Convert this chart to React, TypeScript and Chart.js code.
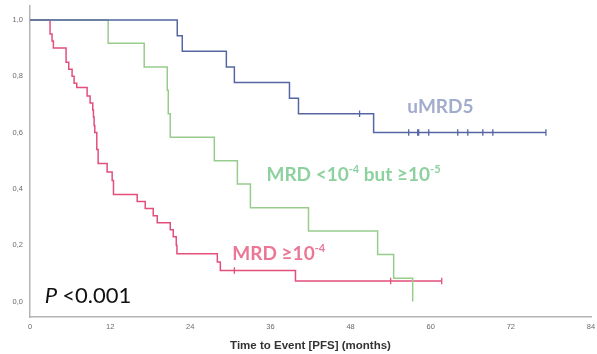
import React, { useEffect, useRef } from "react";
import { Chart, registerables } from "chart.js";

Chart.register(...registerables);

// Axis ticks
const xTickValues = [0, 12, 24, 36, 48, 60, 72, 84];
const yTickValues = [0, 0.2, 0.4, 0.6, 0.8, 1.0];

// Kaplan-Meier step points (months, survival probability)
const umrdTimes = [0, 22.05, 22.8, 29.4, 30.6, 38.85, 40.2, 51.45, 77.25];
const umrdSurv = [1, 0.944, 0.889, 0.833, 0.778, 0.722, 0.667, 0.6, 0.6];
const umrdCensored = [49.35, 56.7, 58.05, 58.2, 59.7, 64.05, 65.55, 67.8, 69.3, 77.25];

const midTimes = [0, 11.7, 17.1, 20.55, 20.7, 21.0, 27.6, 31.05, 33.0, 41.7, 52.05, 54.45, 57.3];
const midSurv = [1, 0.917, 0.833, 0.75, 0.667, 0.583, 0.5, 0.417, 0.333, 0.25, 0.167, 0.083, 0];

const highTimes = [
  0, 3.0, 3.3, 3.5, 5.4, 5.8, 6.3, 6.6, 7.0, 8.55, 9.0, 9.4, 9.5, 9.6, 9.7, 10.0, 10.2,
  11.55, 12.3, 12.5, 16.05, 17.25, 18.45, 19.05, 21.0, 21.45, 21.9, 22.0, 28.05, 28.5,
  39.75, 61.65,
];
const highSurv = [
  1, 0.95, 0.925, 0.9, 0.85, 0.825, 0.8, 0.775, 0.76, 0.73, 0.705, 0.68, 0.655, 0.625,
  0.6, 0.54, 0.49, 0.46, 0.43, 0.38, 0.355, 0.33, 0.305, 0.28, 0.255, 0.23, 0.2, 0.17,
  0.14, 0.11, 0.073, 0.073,
];
const highCensored = [30.6, 54.0, 61.65];

// Curve labels: [text, superscript?] parts, anchored in data units (left, baseline)
const umrdLabel: [string, boolean][] = [["uMRD5", false]];
const midLabel: [string, boolean][] = [
  ["MRD <10", false],
  ["-4", true],
  [" but \u226510", false],
  ["-5", true],
];
const highLabel: [string, boolean][] = [
  ["MRD \u226510", false],
  ["-4", true],
];

const COLORS = {
  umrdLine: "#5566a3",
  midLine: "#98cc8c",
  highLine: "#e34f7b",
  umrdText: "#a2accd",
  midText: "#8dd19f",
  highText: "#eb7695",
  axis: "#b4b4b4",
  tick: "#6a6a6a",
};

const LABEL_FONT = "Lato, 'Open Sans', sans-serif";

function survivalAt(times: number[], surv: number[], t: number) {
  let s = surv[0];
  for (let i = 0; i < times.length; i++) if (times[i] <= t) s = surv[i];
  return s;
}

function toPoints(times: number[], surv: number[]) {
  return times.map((t, i) => ({ x: t, y: surv[i] }));
}

function censorPoints(times: number[], surv: number[], cens: number[]) {
  return cens.map((t) => ({ x: t, y: survivalAt(times, surv, t) }));
}

function drawRich(
  ctx: CanvasRenderingContext2D,
  x0: number,
  baseline: number,
  parts: [string, boolean][],
  size: number,
  color: string
) {
  let x = x0;
  ctx.fillStyle = color;
  ctx.textBaseline = "alphabetic";
  ctx.textAlign = "left";
  for (const [text, sup] of parts) {
    const fs = sup ? Math.round(size * 0.6) : size;
    ctx.font = `bold ${fs}px ${LABEL_FONT}`;
    ctx.fillText(text, x, sup ? baseline - size * 0.42 : baseline);
    x += ctx.measureText(text).width;
  }
}

const annotationPlugin = {
  id: "kmAnnotations",
  afterDatasetsDraw(chart: any) {
    const { ctx, scales } = chart;
    const xs = scales.x;
    const ys = scales.y;
    ctx.save();
    drawRich(ctx, xs.getPixelForValue(56.5), ys.getPixelForValue(0.668), umrdLabel, 19, COLORS.umrdText);
    drawRich(ctx, xs.getPixelForValue(35.4), ys.getPixelForValue(0.427), midLabel, 19, COLORS.midText);
    drawRich(ctx, xs.getPixelForValue(30.3), ys.getPixelForValue(0.147), highLabel, 19, COLORS.highText);

    // Log-rank p-value
    const px = xs.getPixelForValue(2.2);
    const py = ys.getPixelForValue(-0.005);
    ctx.fillStyle = "#111111";
    ctx.textBaseline = "alphabetic";
    ctx.textAlign = "left";
    ctx.font = `italic 22px ${LABEL_FONT}`;
    ctx.fillText("P", px, py);
    const w = ctx.measureText("P ").width;
    ctx.font = `22px ${LABEL_FONT}`;
    ctx.fillText("<0.001", px + w, py);
    ctx.restore();
  },
};

export default function App() {
  const canvasRef = useRef<HTMLCanvasElement | null>(null);

  useEffect(() => {
    document.body.style.margin = "0";
    const canvas = canvasRef.current;
    if (!canvas) return;

    const curve = (label: string, data: any[], color: string) => ({
      label,
      data,
      borderColor: color,
      borderWidth: 1.5,
      stepped: "before" as const,
      pointRadius: 0,
      fill: false,
    });
    const censor = (label: string, data: any[], color: string) => ({
      label,
      data,
      showLine: false,
      borderColor: color,
      backgroundColor: color,
      borderWidth: 1.3,
      pointStyle: "line" as const,
      rotation: 90,
      pointRadius: 3.2,
    });

    const chart = new Chart(canvas, {
      type: "line",
      data: {
        datasets: [
          curve("uMRD5", toPoints(umrdTimes, umrdSurv), COLORS.umrdLine),
          curve("MRD <10^-4 but >=10^-5", toPoints(midTimes, midSurv), COLORS.midLine),
          curve("MRD >=10^-4", toPoints(highTimes, highSurv), COLORS.highLine),
          censor("uMRD5 censored", censorPoints(umrdTimes, umrdSurv, umrdCensored), COLORS.umrdLine),
          censor("MRD >=10^-4 censored", censorPoints(highTimes, highSurv, highCensored), COLORS.highLine),
        ] as any,
      },
      options: {
        responsive: false,
        animation: false,
        layout: { padding: { top: 5, right: 6, left: 0, bottom: 0 } },
        plugins: {
          legend: { display: false },
          tooltip: { enabled: false },
        },
        scales: {
          x: {
            type: "linear",
            min: 0,
            max: 84,
            afterBuildTicks: (scale: any) => {
              scale.ticks = xTickValues.map((v) => ({ value: v }));
            },
            afterFit: (scale: any) => {
              scale.height = 37;
              scale.paddingLeft = 0;
              scale.paddingRight = 0;
            },
            grid: { display: false, drawTicks: false },
            border: { display: true, color: COLORS.axis, width: 1.5 },
            ticks: {
              padding: 5,
              color: COLORS.tick,
              font: { family: "'Liberation Sans', Arial, sans-serif", size: 7.5 },
              maxRotation: 0,
            },
            title: {
              display: true,
              text: "Time to Event [PFS] (months)",
              color: "#333333",
              padding: { top: 0, bottom: 1 },
              font: { family: "'Liberation Sans', Arial, sans-serif", size: 11.5, weight: "bold" },
            },
          },
          y: {
            type: "linear",
            min: -0.055,
            max: 1.052,
            afterBuildTicks: (scale: any) => {
              scale.ticks = yTickValues.map((v) => ({ value: v }));
            },
            afterFit: (scale: any) => {
              scale.width = 30;
              scale.paddingTop = 0;
              scale.paddingBottom = 0;
            },
            grid: { display: false, drawTicks: false },
            border: { display: true, color: COLORS.axis, width: 1.5 },
            ticks: {
              padding: 7,
              color: COLORS.tick,
              font: { family: "'Liberation Sans', Arial, sans-serif", size: 7.5 },
              callback: (v: any) => Number(v).toFixed(1).replace(".", ","),
            },
          },
        },
      },
      plugins: [annotationPlugin],
    });

    return () => chart.destroy();
  }, []);

  return (
    <div style={{ width: 597, height: 354, background: "#ffffff" }}>
      <canvas ref={canvasRef} width={597} height={354} style={{ display: "block" }} />
    </div>
  );
}
